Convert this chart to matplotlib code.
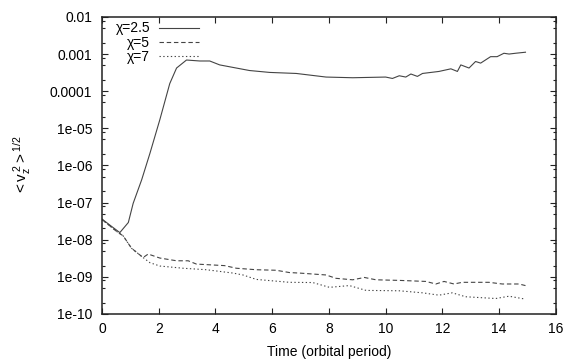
import matplotlib
matplotlib.use("Agg")
import matplotlib.pyplot as plt
from matplotlib.ticker import LogLocator, FixedLocator, FixedFormatter, NullFormatter

plt.rcParams['font.family'] = ['Liberation Sans', 'DejaVu Sans']
plt.rcParams['font.size'] = 10
plt.rcParams['mathtext.fontset'] = 'custom'
plt.rcParams['mathtext.rm'] = 'Liberation Sans'
plt.rcParams['mathtext.it'] = 'Liberation Sans'
plt.rcParams['mathtext.default'] = 'regular'

# chi = 2.5
t_a = [0.0, 0.3, 0.63, 0.93, 1.10, 1.40, 1.69, 2.04, 2.39, 2.63, 2.98, 3.45, 3.80, 4.15,
       5.2, 5.91, 6.85, 7.90, 8.84, 10.0, 10.24, 10.48, 10.71, 10.89, 11.12, 11.30, 11.88,
       12.3, 12.53, 12.65, 12.94, 13.17, 13.35, 13.70, 13.93, 14.17, 14.35, 14.58, 14.93]
v_a = [3.6e-8, 2.4e-8, 1.55e-8, 2.9e-8, 9.5e-8, 4.1e-7, 2.1e-6, 1.7e-5, 1.6e-4, 4.2e-4,
       6.9e-4, 6.5e-4, 6.5e-4, 5.1e-4, 3.6e-4, 3.2e-4, 3.0e-4, 2.4e-4, 2.3e-4, 2.4e-4,
       2.2e-4, 2.6e-4, 2.4e-4, 2.9e-4, 2.5e-4, 3.0e-4, 3.4e-4, 4.0e-4, 3.4e-4, 5.1e-4,
       4.2e-4, 6.3e-4, 5.7e-4, 8.5e-4, 8.5e-4, 1.05e-3, 1.0e-3, 1.05e-3, 1.12e-3]

# chi = 5
t_b = [0.0, 0.52, 0.75, 1.04, 1.45, 1.63, 2.04, 2.63, 3.04, 3.33, 4.32, 4.74, 5.44, 6.14,
       6.61, 6.96, 7.90, 8.25, 8.84, 9.25, 9.66, 10.48, 11.42, 11.77, 12.06, 12.41, 12.70,
       13.64, 14.11, 14.70, 14.93]
v_b = [3.5e-8, 1.66e-8, 1.26e-8, 5.9e-9, 3.3e-9, 4.1e-9, 3.2e-9, 2.7e-9, 2.7e-9, 2.2e-9,
       2.0e-9, 1.7e-9, 1.55e-9, 1.5e-9, 1.3e-9, 1.26e-9, 1.12e-9, 9.1e-10, 8.3e-10, 9.6e-10,
       8.3e-10, 8.0e-10, 7.5e-10, 6.4e-10, 7.5e-10, 6.4e-10, 7.1e-10, 7.1e-10, 6.4e-10,
       6.4e-10, 5.8e-10]

# chi = 7
t_c = [0.0, 0.52, 0.75, 1.04, 1.45, 1.69, 2.04, 2.86, 3.68, 4.62, 4.97, 5.44, 6.61, 7.43,
       8.02, 8.72, 9.31, 10.48, 11.30, 11.88, 12.35, 12.82, 13.88, 14.35, 14.93]
v_c = [3.5e-8, 1.66e-8, 1.26e-8, 5.9e-9, 3.3e-9, 2.4e-9, 1.95e-9, 1.7e-9, 1.55e-9, 1.26e-9,
       1.12e-9, 8.5e-10, 7.1e-10, 7.0e-10, 5.2e-10, 5.8e-10, 4.3e-10, 4.2e-10, 3.7e-10,
       3.2e-10, 3.7e-10, 2.9e-10, 2.6e-10, 3.0e-10, 2.5e-10]

labels = ["\u03c7=2.5", "\u03c7=5", "\u03c7=7"]
xticks = [0, 2, 4, 6, 8, 10, 12, 14, 16]
yticks = [1e-10, 1e-9, 1e-8, 1e-7, 1e-6, 1e-5, 1e-4, 1e-3, 1e-2]
ytick_labels = ["1e-10", "1e-09", "1e-08", "1e-07", "1e-06", "1e-05", "0.0001", "0.001", "0.01"]

fig = plt.figure(figsize=(5.76, 3.6), dpi=100)
ax = fig.add_axes([0.177, 0.128, 0.788, 0.825])

col = '#444444'
ax.plot(t_a, v_a, color=col, lw=0.8, ls='-', label=labels[0])
ax.plot(t_b, v_b, color=col, lw=0.8, ls=(0, (4, 2.5)), label=labels[1])
ax.plot(t_c, v_c, color=col, lw=0.8, ls=(0, (1.2, 2.2)), label=labels[2])

ax.set_yscale('log')
ax.set_xlim(0, 16)
ax.set_ylim(1e-10, 1e-2)
ax.xaxis.set_major_locator(FixedLocator(xticks))
ax.yaxis.set_major_locator(FixedLocator(yticks))
ax.yaxis.set_major_formatter(FixedFormatter(ytick_labels))
ax.yaxis.set_minor_locator(LogLocator(base=10, subs=(2, 5, 8)))
ax.yaxis.set_minor_formatter(NullFormatter())

ax.tick_params(which='both', direction='in', top=True, right=True, color='#222222')
ax.tick_params(which='major', length=4.3, width=0.8, labelsize=10)
ax.tick_params(axis='y', which='major', pad=7)
ax.tick_params(axis='x', which='major', pad=6)
ax.tick_params(which='minor', length=2.2, width=0.8)
for s in ax.spines.values():
    s.set_linewidth(1.1)
    s.set_color('#222222')

ax.set_xlabel("Time (orbital period)", labelpad=6)
ax.set_ylabel(r"$<v_z^{\,2}>^{1/2}$", labelpad=12, fontsize=11)

ax.legend(loc='upper left', bbox_to_anchor=(0.03, 0.985), frameon=False,
          markerfirst=False, handlelength=2.9, handletextpad=0.65,
          labelspacing=0.02, borderpad=0, borderaxespad=0, fontsize=10)

fig.savefig("out.png", dpi=100)
